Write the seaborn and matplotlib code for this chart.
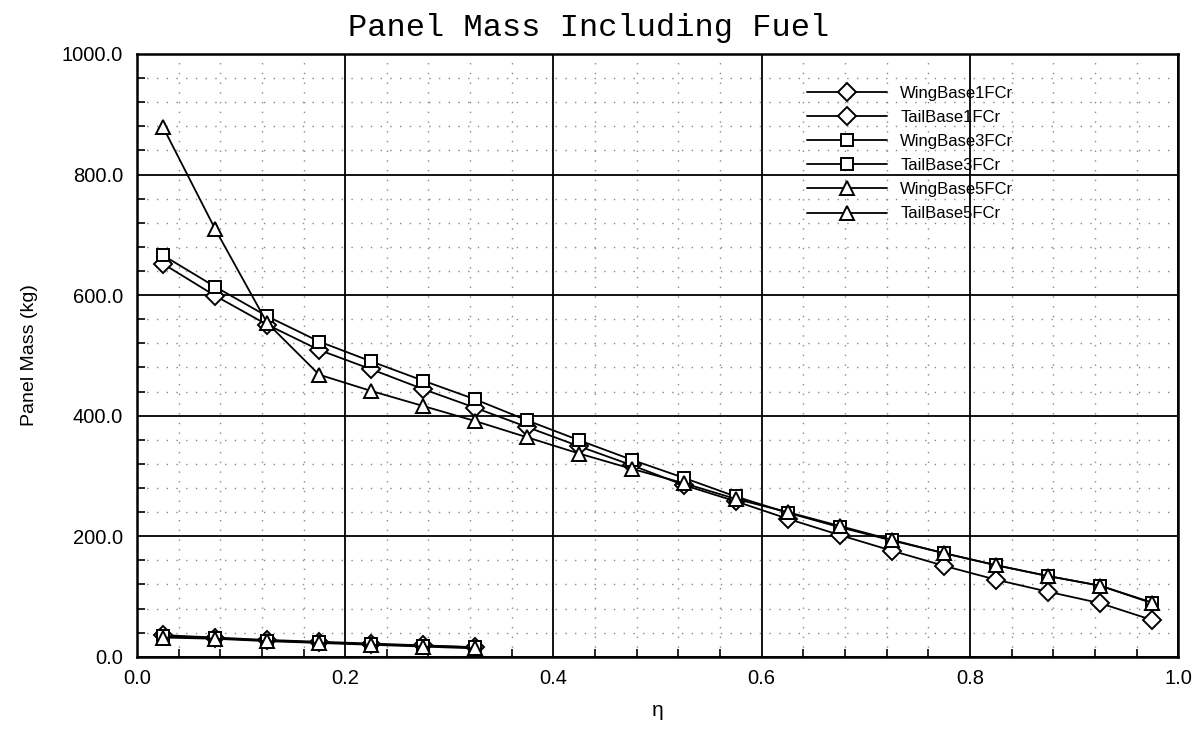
import numpy as np
import pandas as pd
import matplotlib
matplotlib.use("Agg")
import matplotlib.pyplot as plt
import seaborn as sns
from matplotlib.ticker import MultipleLocator, FormatStrFormatter

eta_wing = [0.025, 0.075, 0.125, 0.175, 0.225, 0.275, 0.325, 0.375, 0.425, 0.475,
            0.525, 0.575, 0.625, 0.675, 0.725, 0.775, 0.825, 0.875, 0.925, 0.975]
eta_tail = [0.025, 0.075, 0.125, 0.175, 0.225, 0.275, 0.325]

wing1 = [652, 599, 551, 509, 477, 444, 413, 381, 349, 318, 285, 258, 229, 202, 176, 151, 128, 108, 89, 61]
tail1 = [36, 32, 28, 25, 22, 19, 16]
wing3 = [666, 614, 565, 523, 490, 458, 427, 392, 359, 327, 297, 266, 239, 215, 193, 172, 152, 134, 118, 89]
tail3 = [34, 31, 27, 24, 21, 18, 16]
wing5 = [879, 710, 554, 468, 441, 416, 391, 364, 337, 312, 288, 262, 240, 217, 194, 172, 152, 134, 118, 90]
tail5 = [32, 30, 26, 23, 20, 17, 14]

series = [
    ("WingBase1FCr", eta_wing, wing1, "D"),
    ("TailBase1FCr", eta_tail, tail1, "D"),
    ("WingBase3FCr", eta_wing, wing3, "s"),
    ("TailBase3FCr", eta_tail, tail3, "s"),
    ("WingBase5FCr", eta_wing, wing5, "^"),
    ("TailBase5FCr", eta_tail, tail5, "^"),
]

sns.set_theme(style="white")
plt.rcParams['font.family'] = ['Liberation Sans', 'DejaVu Sans']
plt.rcParams['text.color'] = 'black'
plt.rcParams['axes.labelcolor'] = 'black'
plt.rcParams['xtick.color'] = 'black'
plt.rcParams['ytick.color'] = 'black'

fig = plt.figure(figsize=(12.01, 7.29), dpi=100)
ax = fig.add_axes([0.114, 0.099, 0.867, 0.827])

msize = {"D": 9.5, "s": 9, "^": 10}
for name, xs, ys, mk in series:
    df = pd.DataFrame({"eta": xs, "mass": ys})
    sns.lineplot(data=df, x="eta", y="mass", ax=ax, color="black", linewidth=1.3,
                 marker=mk, markersize=msize[mk], markerfacecolor="white",
                 markeredgecolor="black", markeredgewidth=1.4, label=name, zorder=3)

ax.set_xlim(0, 1.0)
ax.set_ylim(0, 1000)
ax.xaxis.set_major_locator(MultipleLocator(0.2))
ax.xaxis.set_minor_locator(MultipleLocator(0.04))
ax.yaxis.set_major_locator(MultipleLocator(200))
ax.yaxis.set_minor_locator(MultipleLocator(40))
ax.xaxis.set_major_formatter(FormatStrFormatter('%.1f'))
ax.yaxis.set_major_formatter(FormatStrFormatter('%.1f'))

ax.grid(which="major", color="black", linewidth=1.3, linestyle="-")
ax.grid(which="minor", color="#888888", linewidth=1.0, linestyle=(0, (1, 6)))
ax.set_axisbelow(True)
ax.tick_params(which="both", direction="in", colors="black", labelsize=14.5,
               bottom=True, left=True)
ax.tick_params(which="major", length=0)
ax.tick_params(axis="y", which="major", pad=10)
ax.tick_params(axis="x", which="major", pad=9)
ax.tick_params(which="minor", length=6, width=1.2)
for s in ax.spines.values():
    s.set_color("black")
    s.set_linewidth(1.8)

ax.set_xlabel("η", fontsize=15, labelpad=9)
ax.set_ylabel("Panel Mass (kg)", fontsize=14, labelpad=17)
fig.text(0.49, 0.962, "Panel Mass Including Fuel", family="Liberation Mono",
         fontsize=23, ha="center", va="center", color="black")

leg = ax.legend(loc="upper left", bbox_to_anchor=(0.637, 0.9585), frameon=False,
                fontsize=12, handlelength=4.8, handletextpad=0.8,
                labelspacing=0.55, borderaxespad=0)
for t in leg.get_texts():
    t.set_color("black")

fig.savefig("out.png", dpi=100)
